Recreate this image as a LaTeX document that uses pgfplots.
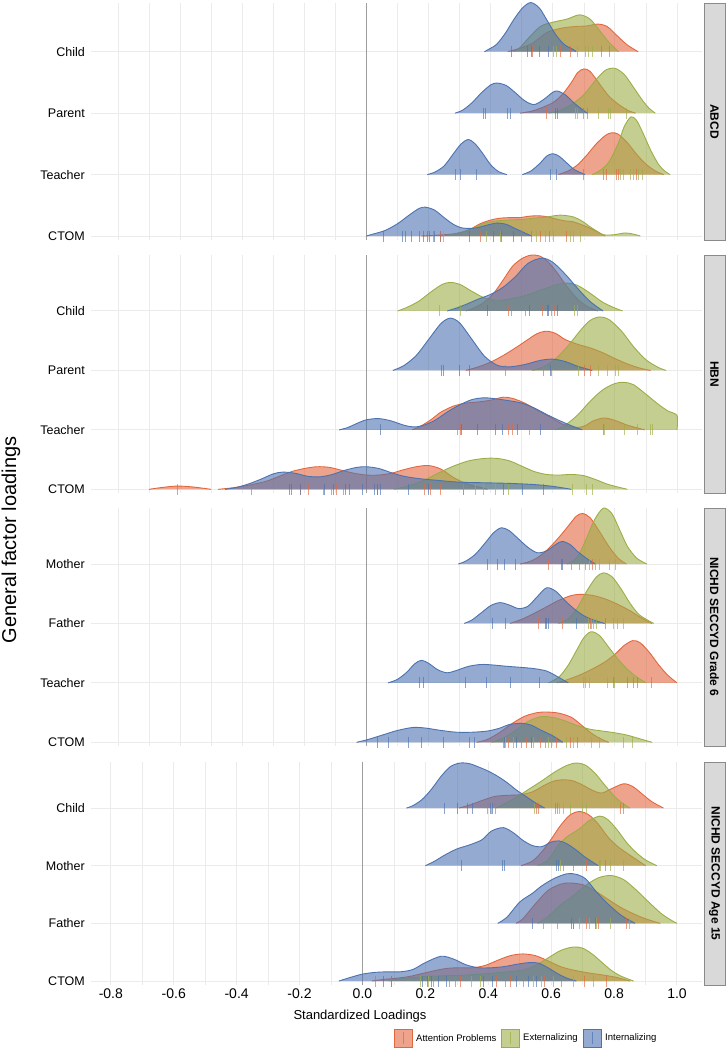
\documentclass[border=0pt]{standalone}
\usepackage{fontspec}
\setmainfont{Liberation Sans}
\usepackage{pgfplots}
\pgfplotsset{compat=1.18}
\definecolor{cR}{HTML}{E2673F}
\definecolor{cG}{HTML}{9DAD46}
\definecolor{cB}{HTML}{4C72B0}
\definecolor{gridc}{HTML}{EBEBEB}
\definecolor{stripf}{HTML}{D9D9D9}
\definecolor{stripd}{HTML}{8A8A8A}
\pgfplotsset{
  ridge/.style={smooth, mark=none, line width=0.9pt, fill opacity=0.6, draw opacity=1, line join=round},
  rR/.style={ridge, draw=cR, fill=cR},
  rG/.style={ridge, draw=cG, fill=cG},
  rB/.style={ridge, draw=cB, fill=cB},
  rug/.style={only marks, mark=|, mark size=5.5pt, mark options={line width=0.8pt, opacity=0.65}},
  uR/.style={rug, color=cR},
  uG/.style={rug, color=cG},
  uB/.style={rug, color=cB},
  panel/.style={scale only axis, width=611pt, xmin=-0.887, xmax=1.0805, clip=false,
    anchor=north west,
    axis line style={draw=none}, major tick length=0pt, minor tick length=0pt,
    xtick={-0.8,-0.6,-0.4,-0.2,0,0.2,0.4,0.6,0.8,1.0},
    minor xtick={-0.7,-0.5,-0.3,-0.1,0.1,0.3,0.5,0.7,0.9},
    ytick={0,1,2,3}, xmajorgrids, xminorgrids, ymajorgrids,
    major grid style={gridc, line width=1pt},
    minor grid style={gridc, line width=0.6pt},
    xticklabels={},
    yticklabel style={font=\fontsize{12.5}{14}\selectfont, inner sep=0pt, xshift=-6pt}},
}
\newcommand\ridge[3]{\addplot[#1] table[row sep=\\, x index=0, y expr=\thisrowno{1}+#2] {x h\\ #3\\};}
\newcommand\rug[3]{\addplot[#1] table[row sep=\\, x index=0, y expr=#2] {x\\ #3\\};}
\begin{document}
\begin{tikzpicture}
\path[use as bounding box] (0pt,0pt) rectangle (727pt,-1050pt);

% ---------------- Panel 1: ABCD ----------------
\begin{axis}[panel, at={(91pt,-3pt)}, height=237pt, ymin=-0.065, ymax=3.793,
  yticklabels={CTOM,Teacher,Parent,Child}]
\addplot[draw=black!38, line width=0.8pt] coordinates {(0,-0.065) (0,3.793)};
% Child
\ridge{rR}{3}{0.455 0\\0.49 0.05\\0.535 0.14\\0.58 0.31\\0.625 0.38\\0.67 0.41\\0.71 0.42\\0.745 0.45\\0.775 0.41\\0.805 0.27\\0.84 0.11\\0.875 0}
\ridge{rG}{3}{0.473 0\\0.495 0.07\\0.516 0.19\\0.56 0.41\\0.60 0.48\\0.645 0.53\\0.686 0.60\\0.72 0.53\\0.753 0.33\\0.78 0.16\\0.812 0}
\ridge{rB}{3}{0.38 0\\0.392 0.035\\0.419 0.12\\0.447 0.30\\0.474 0.52\\0.502 0.71\\0.529 0.80\\0.557 0.71\\0.584 0.49\\0.612 0.26\\0.639 0.11\\0.667 0.035\\0.675 0}
\rug{uB}{3}{0.468\\0.518\\0.532\\0.557\\0.586}
\rug{uR}{3}{0.535\\0.624\\0.656\\0.758\\0.783}
\rug{uG}{3}{0.602\\0.613\\0.68\\0.704\\0.715\\0.726}
% Parent
\ridge{rR}{2}{0.495 0\\0.53 0.03\\0.56 0.08\\0.60 0.17\\0.63 0.30\\0.66 0.50\\0.68 0.66\\0.70 0.72\\0.72 0.68\\0.75 0.48\\0.78 0.28\\0.81 0.15\\0.84 0.05\\0.866 0}
\ridge{rG}{2}{0.586 0\\0.62 0.04\\0.66 0.14\\0.70 0.30\\0.74 0.55\\0.77 0.70\\0.80 0.73\\0.83 0.63\\0.86 0.42\\0.89 0.20\\0.91 0.08\\0.93 0}
\ridge{rB}{2}{0.285 0\\0.31 0.05\\0.34 0.17\\0.37 0.33\\0.40 0.46\\0.42 0.49\\0.45 0.45\\0.48 0.33\\0.51 0.20\\0.54 0.14\\0.57 0.22\\0.60 0.34\\0.615 0.36\\0.64 0.30\\0.67 0.16\\0.70 0.04\\0.712 0}
\rug{uB}{2}{0.378\\0.384\\0.455\\0.462\\0.608\\0.616}
\rug{uR}{2}{0.578\\0.697\\0.712}
\rug{uG}{2}{0.672\\0.68\\0.747\\0.78\\0.787\\0.837}
% Teacher
\ridge{rR}{1}{0.618 0\\0.65 0.06\\0.68 0.16\\0.71 0.32\\0.74 0.50\\0.77 0.64\\0.79 0.68\\0.81 0.66\\0.84 0.52\\0.87 0.33\\0.90 0.17\\0.93 0.06\\0.957 0}
\ridge{rG}{1}{0.726 0\\0.75 0.06\\0.78 0.20\\0.81 0.50\\0.83 0.78\\0.852 0.94\\0.87 0.88\\0.89 0.68\\0.915 0.40\\0.94 0.17\\0.96 0.06\\0.978 0}
\ridge{rB}{1}{0.196 0\\0.22 0.04\\0.25 0.14\\0.28 0.34\\0.305 0.50\\0.328 0.57\\0.35 0.50\\0.375 0.34\\0.40 0.16\\0.425 0.05\\0.452 0}
\ridge{rB}{1}{0.502 0\\0.53 0.06\\0.56 0.19\\0.58 0.30\\0.60 0.34\\0.62 0.30\\0.645 0.19\\0.67 0.08\\0.704 0}
\rug{uB}{1}{0.285\\0.301\\0.353\\0.591\\0.613}
\rug{uR}{1}{0.699\\0.763\\0.774\\0.804\\0.812\\0.869}
\rug{uG}{1}{0.817\\0.826\\0.849\\0.858\\0.876\\0.887}
% CTOM
\ridge{rR}{0}{0.177 0\\0.22 0.01\\0.29 0.04\\0.33 0.10\\0.366 0.20\\0.40 0.26\\0.43 0.29\\0.465 0.30\\0.495 0.30\\0.52 0.32\\0.548 0.33\\0.575 0.32\\0.60 0.29\\0.635 0.25\\0.667 0.23\\0.70 0.17\\0.731 0.10\\0.769 0}
\ridge{rG}{0}{0.237 0\\0.28 0.03\\0.33 0.10\\0.376 0.20\\0.41 0.24\\0.452 0.26\\0.50 0.27\\0.538 0.29\\0.58 0.31\\0.624 0.34\\0.667 0.31\\0.695 0.24\\0.72 0.15\\0.745 0.07\\0.763 0.02\\0.796 0.02\\0.833 0.05\\0.86 0.03\\0.882 0}
\ridge{rB}{0}{0.0 0\\0.02 0.03\\0.06 0.09\\0.10 0.20\\0.14 0.35\\0.17 0.45\\0.19 0.47\\0.22 0.42\\0.25 0.30\\0.28 0.19\\0.31 0.13\\0.35 0.13\\0.39 0.18\\0.42 0.21\\0.45 0.19\\0.48 0.12\\0.51 0.05\\0.532 0}
\rug{uB}{0}{0.054\\0.115\\0.126\\0.145\\0.172\\0.183\\0.196\\0.204\\0.218\\0.237\\0.333\\0.409\\0.435\\0.473}
\rug{uR}{0}{0.215\\0.237\\0.366\\0.5\\0.532\\0.559\\0.589\\0.645}
\rug{uG}{0}{0.247\\0.387\\0.43\\0.548\\0.575\\0.602\\0.656\\0.667\\0.688}
\end{axis}

% ---------------- Panel 2: HBN ----------------
\begin{axis}[panel, at={(91pt,-255pt)}, height=238pt, ymin=-0.062, ymax=3.942,
  yticklabels={CTOM,Teacher,Parent,Child}]
\addplot[draw=black!38, line width=0.8pt] coordinates {(0,-0.062) (0,3.942)};
% Child
\ridge{rR}{3}{0.32 0\\0.35 0.06\\0.38 0.15\\0.41 0.30\\0.44 0.52\\0.47 0.75\\0.50 0.88\\0.53 0.94\\0.56 0.92\\0.59 0.80\\0.62 0.60\\0.65 0.38\\0.68 0.20\\0.71 0.08\\0.745 0}
\ridge{rG}{3}{0.10 0\\0.13 0.06\\0.17 0.17\\0.21 0.33\\0.245 0.45\\0.27 0.48\\0.30 0.45\\0.34 0.33\\0.38 0.22\\0.42 0.18\\0.46 0.20\\0.51 0.26\\0.56 0.35\\0.61 0.44\\0.645 0.47\\0.68 0.43\\0.72 0.30\\0.76 0.15\\0.80 0.05\\0.825 0}
\ridge{rB}{3}{0.26 0\\0.29 0.05\\0.32 0.11\\0.36 0.20\\0.40 0.28\\0.44 0.40\\0.48 0.58\\0.52 0.80\\0.565 0.89\\0.60 0.82\\0.64 0.62\\0.68 0.38\\0.72 0.16\\0.762 0}
\rug{uG}{3}{0.236\\0.303\\0.67\\0.679}
\rug{uB}{3}{0.391\\0.526\\0.583\\0.586\\0.614}
\rug{uR}{3}{0.457\\0.466\\0.511\\0.566\\0.595\\0.604}
% Parent
\ridge{rR}{2}{0.32 0\\0.36 0.06\\0.40 0.14\\0.44 0.25\\0.48 0.38\\0.52 0.52\\0.55 0.62\\0.58 0.66\\0.61 0.62\\0.64 0.52\\0.68 0.44\\0.72 0.38\\0.76 0.30\\0.80 0.20\\0.84 0.11\\0.88 0.04\\0.915 0}
\ridge{rG}{2}{0.533 0\\0.57 0.06\\0.61 0.20\\0.65 0.42\\0.69 0.68\\0.72 0.84\\0.75 0.90\\0.78 0.86\\0.82 0.67\\0.86 0.40\\0.90 0.18\\0.94 0.05\\0.965 0}
\ridge{rB}{2}{0.085 0\\0.12 0.08\\0.16 0.25\\0.20 0.52\\0.24 0.79\\0.27 0.88\\0.30 0.80\\0.34 0.52\\0.38 0.24\\0.42 0.09\\0.46 0.06\\0.51 0.10\\0.56 0.17\\0.60 0.19\\0.64 0.15\\0.68 0.07\\0.727 0}
\rug{uB}{2}{0.242\\0.248\\0.298\\0.332\\0.593}
\rug{uR}{2}{0.447\\0.57\\0.595\\0.702\\0.72}
\rug{uG}{2}{0.683\\0.746\\0.777\\0.802\\0.812}
% Teacher
\ridge{rR}{1}{0.148 0\\0.18 0.08\\0.21 0.18\\0.24 0.30\\0.28 0.40\\0.32 0.45\\0.36 0.47\\0.40 0.50\\0.44 0.55\\0.47 0.53\\0.51 0.45\\0.55 0.33\\0.59 0.22\\0.63 0.10\\0.67 0.04\\0.70 0.06\\0.73 0.15\\0.765 0.20\\0.80 0.16\\0.84 0.08\\0.896 0}
\ridge{rG}{1}{0.608 0\\0.64 0.08\\0.68 0.25\\0.72 0.48\\0.76 0.67\\0.80 0.78\\0.83 0.80\\0.86 0.76\\0.90 0.60\\0.94 0.43\\0.97 0.32\\1.0 0.24\\1.0 0}
\ridge{rB}{1}{-0.088 0\\-0.06 0.04\\-0.03 0.11\\0.0 0.17\\0.04 0.19\\0.08 0.15\\0.12 0.08\\0.15 0.05\\0.18 0.07\\0.22 0.16\\0.26 0.30\\0.30 0.42\\0.34 0.51\\0.38 0.54\\0.42 0.52\\0.46 0.49\\0.50 0.45\\0.54 0.37\\0.58 0.26\\0.62 0.16\\0.66 0.07\\0.695 0}
\rug{uB}{1}{0.044\\0.307\\0.357\\0.414\\0.439\\0.486\\0.561}
\rug{uR}{1}{0.294\\0.301\\0.457\\0.47\\0.524\\0.762}
\rug{uG}{1}{0.767\\0.83\\0.871\\0.915\\0.921}
% CTOM
\ridge{rR}{0}{-0.70 0\\-0.66 0.03\\-0.61 0.055\\-0.56 0.04\\-0.50 0}
\ridge{rR}{0}{-0.478 0\\-0.44 0.02\\-0.40 0.05\\-0.36 0.09\\-0.32 0.14\\-0.28 0.22\\-0.24 0.30\\-0.20 0.35\\-0.16 0.38\\-0.12 0.37\\-0.08 0.32\\-0.04 0.27\\0.0 0.24\\0.04 0.24\\0.08 0.27\\0.12 0.33\\0.16 0.38\\0.20 0.40\\0.24 0.34\\0.28 0.20\\0.32 0.10\\0.36 0.04\\0.39 0}
\ridge{rG}{0}{0.088 0\\0.13 0.05\\0.18 0.14\\0.23 0.27\\0.28 0.39\\0.33 0.48\\0.38 0.52\\0.42 0.52\\0.46 0.48\\0.50 0.39\\0.54 0.30\\0.58 0.25\\0.62 0.24\\0.66 0.25\\0.70 0.23\\0.74 0.16\\0.78 0.08\\0.84 0}
\ridge{rB}{0}{-0.455 0\\-0.42 0.03\\-0.38 0.09\\-0.34 0.17\\-0.30 0.26\\-0.27 0.29\\-0.23 0.27\\-0.19 0.22\\-0.15 0.21\\-0.11 0.25\\-0.07 0.32\\-0.03 0.37\\0.0 0.38\\0.04 0.35\\0.08 0.28\\0.12 0.22\\0.17 0.18\\0.23 0.15\\0.30 0.12\\0.38 0.11\\0.46 0.10\\0.54 0.08\\0.60 0.05\\0.66 0}
\rug{uR}{0}{-0.61\\-0.37\\-0.213\\-0.188\\-0.138\\-0.113\\-0.096\\-0.073\\0.035\\0.188\\0.207\\0.238}
\rug{uB}{0}{-0.248\\-0.241\\-0.213\\-0.135\\-0.107\\-0.069\\-0.056\\-0.013\\0.025\\0.035\\0.044\\0.135\\0.2\\0.311\\0.441\\0.501\\0.57}
\rug{uG}{0}{0.311\\0.351\\0.376\\0.414\\0.457\\0.664\\0.708\\0.727}
\end{axis}

% ---------------- Panel 3: NICHD Grade 6 ----------------
\begin{axis}[panel, at={(91pt,-508pt)}, height=238pt, ymin=-0.062, ymax=3.942,
  yticklabels={CTOM,Teacher,Father,Mother}]
\addplot[draw=black!38, line width=0.8pt] coordinates {(0,-0.062) (0,3.942)};
% Mother
\ridge{rR}{3}{0.495 0\\0.53 0.05\\0.56 0.14\\0.59 0.28\\0.62 0.45\\0.65 0.64\\0.675 0.80\\0.695 0.85\\0.72 0.78\\0.75 0.55\\0.78 0.30\\0.81 0.10\\0.837 0}
\ridge{rG}{3}{0.645 0\\0.67 0.07\\0.69 0.22\\0.71 0.45\\0.735 0.75\\0.763 0.94\\0.79 0.85\\0.815 0.58\\0.84 0.30\\0.87 0.10\\0.903 0}
\ridge{rB}{3}{0.296 0\\0.32 0.05\\0.35 0.16\\0.38 0.34\\0.41 0.53\\0.435 0.61\\0.46 0.56\\0.49 0.42\\0.52 0.28\\0.55 0.19\\0.58 0.22\\0.61 0.33\\0.63 0.38\\0.655 0.33\\0.68 0.21\\0.71 0.09\\0.737 0}
\rug{uB}{3}{0.39\\0.421\\0.444\\0.481\\0.627\\0.632}
\rug{uR}{3}{0.586\\0.661\\0.686\\0.704\\0.728}
\rug{uG}{3}{0.718\\0.737\\0.749\\0.783\\0.803}
% Father
\ridge{rR}{2}{0.462 0\\0.50 0.07\\0.54 0.17\\0.58 0.28\\0.62 0.39\\0.66 0.47\\0.69 0.49\\0.73 0.47\\0.77 0.41\\0.81 0.32\\0.85 0.21\\0.88 0.11\\0.919 0}
\ridge{rG}{2}{0.618 0\\0.65 0.08\\0.68 0.27\\0.71 0.55\\0.74 0.78\\0.763 0.85\\0.79 0.79\\0.82 0.58\\0.85 0.33\\0.88 0.14\\0.925 0}
\ridge{rB}{2}{0.315 0\\0.34 0.06\\0.37 0.18\\0.40 0.30\\0.43 0.35\\0.46 0.31\\0.49 0.25\\0.52 0.29\\0.55 0.45\\0.58 0.60\\0.61 0.54\\0.64 0.38\\0.67 0.24\\0.70 0.13\\0.73 0.06\\0.767 0}
\rug{uB}{2}{0.406\\0.446\\0.575\\0.581\\0.586\\0.675}
\rug{uR}{2}{0.554\\0.632\\0.72\\0.769}
\rug{uG}{2}{0.715\\0.723\\0.731\\0.74\\0.796\\0.809\\0.826}
% Teacher
\ridge{rR}{1}{0.613 0\\0.65 0.06\\0.69 0.14\\0.73 0.24\\0.77 0.36\\0.80 0.48\\0.83 0.63\\0.857 0.71\\0.88 0.68\\0.91 0.52\\0.94 0.31\\0.97 0.13\\1.0 0}
\ridge{rG}{1}{0.586 0\\0.62 0.10\\0.65 0.30\\0.68 0.58\\0.70 0.76\\0.723 0.86\\0.75 0.80\\0.78 0.60\\0.81 0.40\\0.84 0.23\\0.87 0.10\\0.901 0}
\ridge{rB}{1}{0.07 0\\0.10 0.06\\0.13 0.18\\0.155 0.32\\0.177 0.38\\0.20 0.33\\0.23 0.22\\0.26 0.17\\0.29 0.21\\0.33 0.28\\0.37 0.31\\0.41 0.30\\0.45 0.28\\0.50 0.26\\0.54 0.24\\0.58 0.20\\0.61 0.12\\0.65 0}
\rug{uB}{1}{0.172\\0.183\\0.32\\0.385\\0.465\\0.557}
\rug{uG}{1}{0.697\\0.704\\0.718\\0.777\\0.798}
\rug{uR}{1}{0.796\\0.841\\0.858\\0.873\\0.919}
% CTOM
\ridge{rR}{0}{0.355 0\\0.39 0.05\\0.43 0.17\\0.47 0.32\\0.51 0.44\\0.55 0.50\\0.58 0.51\\0.62 0.49\\0.66 0.42\\0.69 0.30\\0.72 0.17\\0.75 0.07\\0.78 0}
\ridge{rG}{0}{0.403 0\\0.44 0.07\\0.48 0.20\\0.52 0.35\\0.56 0.43\\0.60 0.42\\0.64 0.36\\0.68 0.28\\0.72 0.22\\0.76 0.19\\0.80 0.16\\0.84 0.12\\0.88 0.06\\0.92 0}
\ridge{rB}{0}{-0.032 0\\0.0 0.04\\0.05 0.12\\0.10 0.20\\0.15 0.25\\0.19 0.24\\0.24 0.20\\0.29 0.17\\0.34 0.17\\0.39 0.19\\0.43 0.24\\0.46 0.30\\0.50 0.32\\0.53 0.29\\0.56 0.21\\0.60 0.11\\0.632 0}
\rug{uB}{0}{0.035\\0.07\\0.134\\0.177\\0.249\\0.333\\0.346\\0.444\\0.482\\0.53}
\rug{uR}{0}{0.441\\0.457\\0.5\\0.516\\0.559\\0.575\\0.594\\0.611\\0.656\\0.68}
\rug{uG}{0}{0.448\\0.473\\0.538\\0.586\\0.643\\0.667\\0.723\\0.751\\0.828\\0.855}
\end{axis}

% ---------------- Panel 4: NICHD Age 15 ----------------
\begin{axis}[panel, at={(91pt,-762pt)}, height=223pt, ymin=-0.069, ymax=3.798,
  xmin=-0.863, xmax=1.0795,
  yticklabels={CTOM,Father,Mother,Child},
  xticklabels={-0.8,-0.6,-0.4,-0.2,0.0,0.2,0.4,0.6,0.8,1.0},
  xticklabel style={font=\fontsize{14}{16}\selectfont, inner sep=0pt, yshift=-4pt}]
\addplot[draw=black!38, line width=0.8pt] coordinates {(0,-0.069) (0,3.798)};
% Child
\ridge{rR}{3}{0.307 0\\0.34 0.05\\0.38 0.13\\0.42 0.20\\0.46 0.22\\0.50 0.23\\0.54 0.28\\0.58 0.40\\0.61 0.47\\0.64 0.49\\0.67 0.47\\0.70 0.40\\0.73 0.31\\0.76 0.26\\0.79 0.33\\0.83 0.42\\0.86 0.37\\0.89 0.24\\0.92 0.11\\0.957 0}
\ridge{rG}{3}{0.424 0\\0.45 0.07\\0.49 0.19\\0.53 0.33\\0.57 0.47\\0.61 0.62\\0.65 0.74\\0.68 0.78\\0.71 0.74\\0.74 0.60\\0.77 0.40\\0.80 0.21\\0.825 0.09\\0.85 0}
\ridge{rB}{3}{0.14 0\\0.16 0.04\\0.19 0.15\\0.22 0.33\\0.25 0.55\\0.28 0.72\\0.31 0.78\\0.34 0.77\\0.37 0.71\\0.40 0.64\\0.43 0.55\\0.46 0.44\\0.49 0.31\\0.52 0.20\\0.55 0.09\\0.579 0}
\rug{uB}{3}{0.26\\0.301\\0.333\\0.35\\0.408\\0.414}
\rug{uR}{3}{0.397\\0.424\\0.554\\0.559\\0.615\\0.62\\0.821\\0.831}
\rug{uG}{3}{0.411\\0.546\\0.626\\0.639\\0.66\\0.7\\0.713}
% Mother
\ridge{rR}{2}{0.504 0\\0.54 0.08\\0.57 0.24\\0.60 0.46\\0.63 0.70\\0.66 0.88\\0.69 0.94\\0.72 0.88\\0.75 0.72\\0.78 0.50\\0.81 0.34\\0.84 0.22\\0.87 0.11\\0.90 0}
\ridge{rG}{2}{0.557 0\\0.59 0.10\\0.62 0.34\\0.65 0.50\\0.69 0.64\\0.72 0.78\\0.755 0.86\\0.78 0.80\\0.81 0.62\\0.84 0.40\\0.87 0.23\\0.90 0.10\\0.936 0}
\ridge{rB}{2}{0.20 0\\0.23 0.08\\0.26 0.18\\0.30 0.29\\0.34 0.36\\0.38 0.45\\0.41 0.60\\0.448 0.66\\0.48 0.57\\0.51 0.44\\0.54 0.35\\0.57 0.33\\0.60 0.41\\0.625 0.43\\0.65 0.38\\0.68 0.27\\0.71 0.14\\0.75 0}
\rug{uB}{2}{0.313\\0.446\\0.45\\0.617\\0.623}
\rug{uR}{2}{0.64\\0.672\\0.713\\0.773}
\rug{uG}{2}{0.63\\0.753\\0.757\\0.789\\0.829}
% Father
\ridge{rR}{1}{0.488 0\\0.51 0.08\\0.55 0.34\\0.59 0.57\\0.63 0.68\\0.66 0.70\\0.70 0.67\\0.74 0.56\\0.78 0.42\\0.82 0.28\\0.86 0.17\\0.90 0.08\\0.947 0}
\ridge{rG}{1}{0.557 0\\0.59 0.12\\0.63 0.32\\0.67 0.48\\0.71 0.66\\0.75 0.79\\0.79 0.83\\0.83 0.76\\0.87 0.58\\0.91 0.37\\0.95 0.17\\0.98 0.06\\1.0 0}
\ridge{rB}{1}{0.43 0\\0.46 0.11\\0.50 0.37\\0.54 0.52\\0.57 0.65\\0.61 0.78\\0.65 0.86\\0.68 0.85\\0.71 0.77\\0.74 0.57\\0.78 0.34\\0.82 0.15\\0.85 0.05\\0.867 0}
\rug{uB}{1}{0.541\\0.665\\0.672\\0.739}
\rug{uR}{1}{0.575\\0.62\\0.67\\0.713\\0.75\\0.838}
\rug{uG}{1}{0.691\\0.721\\0.745\\0.789\\0.848}
% CTOM
\ridge{rR}{0}{0.03 0\\0.07 0.03\\0.11 0.05\\0.15 0.08\\0.19 0.13\\0.23 0.18\\0.27 0.22\\0.31 0.23\\0.35 0.23\\0.39 0.27\\0.43 0.36\\0.47 0.44\\0.51 0.47\\0.55 0.44\\0.59 0.35\\0.63 0.25\\0.67 0.19\\0.72 0.14\\0.77 0.10\\0.81 0.06\\0.85 0}
\ridge{rG}{0}{0.083 0\\0.12 0.04\\0.18 0.07\\0.25 0.09\\0.32 0.10\\0.40 0.13\\0.46 0.16\\0.51 0.19\\0.55 0.27\\0.59 0.40\\0.63 0.53\\0.67 0.59\\0.70 0.57\\0.73 0.47\\0.76 0.33\\0.79 0.19\\0.82 0.09\\0.862 0}
\ridge{rB}{0}{-0.075 0\\-0.04 0.06\\0.0 0.12\\0.04 0.15\\0.08 0.16\\0.12 0.16\\0.16 0.20\\0.20 0.32\\0.25 0.43\\0.29 0.38\\0.33 0.28\\0.37 0.23\\0.41 0.23\\0.45 0.25\\0.49 0.29\\0.53 0.32\\0.56 0.31\\0.59 0.23\\0.62 0.13\\0.65 0.05\\0.68 0}
\rug{uB}{0}{0.066\\0.093\\0.191\\0.206\\0.22\\0.241\\0.268\\0.386\\0.414\\0.49\\0.527\\0.552}
\rug{uR}{0}{0.04\\0.093\\0.225\\0.278\\0.294\\0.31\\0.427\\0.456\\0.469\\0.511\\0.58\\0.633\\0.707\\0.776}
\rug{uG}{0}{0.183\\0.209\\0.347\\0.374\\0.543\\0.57\\0.607\\0.67\\0.734}
\end{axis}

% ---------------- Strips ----------------
\foreach \ya/\yb/\lab in {3/240/ABCD, 255/493/HBN, 508/746/NICHD SECCYD Grade 6, 762/985/NICHD SECCYD Age 15}{
  \draw[fill=stripf, draw=stripd, line width=1pt] (704pt,-\ya pt) rectangle (725pt,-\yb pt);
  \node[rotate=-90, font=\fontsize{12}{14}\selectfont\bfseries, inner sep=0pt] at (714.5pt,{-(\ya+\yb)/2*1pt}) {\lab};
}

% ---------------- Titles ----------------
\node[rotate=90, font=\fontsize{20}{24}\selectfont, inner sep=0pt] at (11pt,-540pt) {General factor loadings};
\node[font=\fontsize{13}{15}\selectfont, inner sep=0pt] at (360pt,-1016pt) {Standardized Loadings};

% ---------------- Legend ----------------
\foreach \xa/\col/\txt in {394/cR/Attention Problems, 501/cG/Externalizing, 583/cB/Internalizing}{
  \fill[\col, fill opacity=0.6] (\xa pt,-1029pt) rectangle ({(\xa+18)*1pt},-1047pt);
  \draw[\col, line width=0.8pt] (\xa pt,-1029pt) rectangle ({(\xa+18)*1pt},-1047pt);
  \draw[\col, line width=0.8pt, opacity=0.7] ({(\xa+9)*1pt},-1032pt) -- ({(\xa+9)*1pt},-1044pt);
  \node[anchor=west, font=\fontsize{9.5}{11}\selectfont, inner sep=0pt] at ({(\xa+22)*1pt},-1038pt) {\txt};
}
\end{tikzpicture}
\end{document}
